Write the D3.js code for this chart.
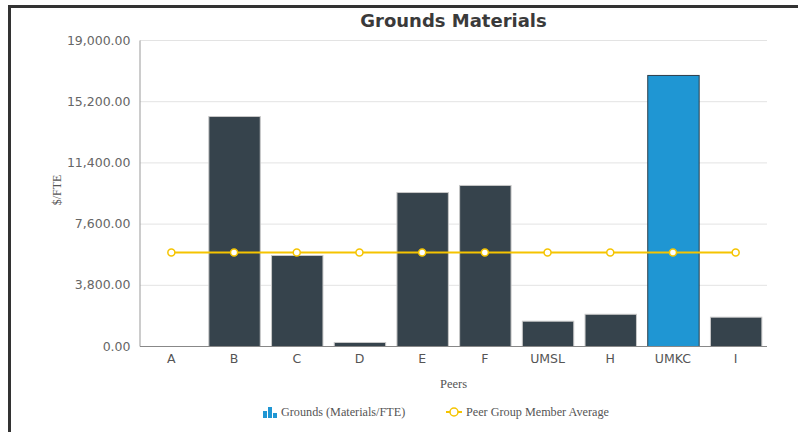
<!DOCTYPE html>
<html><head><meta charset="utf-8">
<script src="https://cdn.jsdelivr.net/npm/d3@7"></script>
<style>body{margin:0;background:#fff;}svg{display:block;}</style>
</head><body>
<svg id="c" width="798" height="432"></svg>
<script>
const categories = ["A","B","C","D","E","F","UMSL","H","UMKC","I"];
const groundsValues = [0, 14280, 5650, 250, 9560, 10000, 1570, 2000, 16830, 1820];
const peerAverage = [5800, 5800, 5800, 5800, 5800, 5800, 5800, 5800, 5800, 5800];
const yTicks = [0, 3800, 7600, 11400, 15200, 19000];
const highlight = "UMKC";

const svg = d3.select("#c");
const m = {l:140, r:767, t:40, b:346};
// frame
svg.append("rect").attr("x",8).attr("y",5).attr("width",3).attr("height",427).attr("fill","#333");
svg.append("rect").attr("x",8).attr("y",5).attr("width",790).attr("height",3).attr("fill","#333");

const x = d3.scaleBand().domain(categories).range([m.l, m.r]).paddingInner(0.18).paddingOuter(0.09);
const y = d3.scaleLinear().domain([0, 19000]).range([m.b, m.t]);

// grid
svg.append("g").selectAll("line").data(yTicks.filter(d=>d>0)).join("line")
  .attr("x1", m.l).attr("x2", m.r).attr("y1", d=>y(d)+0.5).attr("y2", d=>y(d)+0.5)
  .attr("stroke","#e3e3e3").attr("stroke-width",1);

// y axis
const ya = svg.append("g").attr("transform",`translate(${m.l-0.5},0)`)
  .call(d3.axisLeft(y).tickValues(yTicks).tickFormat(d3.format(",.2f")).tickSize(0).tickPadding(9));
ya.select(".domain").attr("stroke","#999");
ya.selectAll("text").attr("font-family","DejaVu Sans, Verdana, sans-serif").attr("font-size",12.5).attr("fill","#666");

// bars
svg.append("g").selectAll("rect").data(categories).join("rect")
  .attr("x", d=>x(d)+0.5).attr("width", x.bandwidth())
  .attr("y", (d,i)=>y(groundsValues[i])+0.5).attr("height",(d,i)=>Math.max(0,y(0)-y(groundsValues[i])))
  .attr("fill", d=>d===highlight?"#1f96d3":"#36434c")
  .attr("stroke", d=>d===highlight?"#2d3e4a":"#c8c8c8").attr("stroke-width",1);

// x axis
const xa = svg.append("g").attr("transform",`translate(0,${m.b+0.5})`)
  .call(d3.axisBottom(x).tickSize(0).tickPadding(8));
xa.select(".domain").attr("stroke","#888").attr("d",`M${m.l},0H${m.r}`);
xa.selectAll("text").attr("font-family","DejaVu Sans, Verdana, sans-serif").attr("font-size",12.5).attr("fill","#555");

// line
const line = d3.line().x((d,i)=>x(categories[i])+x.bandwidth()/2).y(d=>y(d));
svg.append("path").datum(peerAverage).attr("d",line).attr("fill","none").attr("stroke","#f5c400").attr("stroke-width",2);
svg.append("g").selectAll("circle").data(peerAverage).join("circle")
  .attr("cx",(d,i)=>x(categories[i])+x.bandwidth()/2).attr("cy",d=>y(d))
  .attr("r",3.5).attr("fill","#fff").attr("stroke","#f5c400").attr("stroke-width",1.5);

// title
svg.append("text").attr("x",(m.l+m.r)/2).attr("y",27).attr("text-anchor","middle")
  .attr("font-family","DejaVu Sans, Verdana, sans-serif").attr("font-weight","bold").attr("font-size",18).attr("fill","#3a3a3a")
  .text("Grounds Materials");
// axis titles
svg.append("text").attr("transform","translate(61,190) rotate(-90)").attr("text-anchor","middle")
  .attr("font-family","Liberation Serif, Times New Roman, serif").attr("font-size",12).attr("fill","#555").text("$/FTE");
svg.append("text").attr("x",(m.l+m.r)/2).attr("y",388).attr("text-anchor","middle")
  .attr("font-family","Liberation Serif, Times New Roman, serif").attr("font-size",12.5).attr("fill","#555").text("Peers");

// legend
const lg = svg.append("g");
const iconX = 263, iconBase = 418;
const icons = [7,11,5];
icons.forEach((h,i)=>lg.append("rect").attr("x",iconX+i*5).attr("y",iconBase-h).attr("width",4).attr("height",h).attr("fill","#1f96d3"));
lg.append("text").attr("x",281).attr("y",416).attr("font-family","Liberation Serif, Times New Roman, serif").attr("font-size",12.2).attr("fill","#555").text("Grounds (Materials/FTE)");
lg.append("line").attr("x1",446).attr("x2",462).attr("y1",412).attr("y2",412).attr("stroke","#f5c400").attr("stroke-width",2);
lg.append("circle").attr("cx",454).attr("cy",412).attr("r",4).attr("fill","#fff").attr("stroke","#f5c400").attr("stroke-width",1.5);
lg.append("text").attr("x",466).attr("y",416).attr("font-family","Liberation Serif, Times New Roman, serif").attr("font-size",12.2).attr("fill","#555").text("Peer Group Member Average");
</script>
</body></html>
